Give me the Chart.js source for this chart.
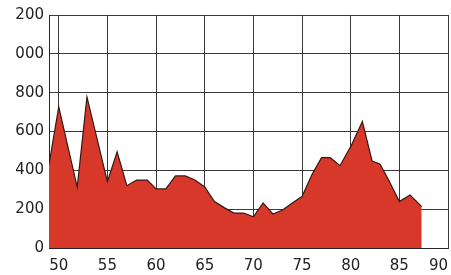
<!DOCTYPE html>
<html>
<head>
<meta charset="utf-8">
<script src="https://cdn.jsdelivr.net/npm/chart.js@4"></script>
<style>
  html, body { margin: 0; padding: 0; background: #fff; }
  #wrap { width: 451px; height: 275px; }
  canvas { display: block; }
</style>
</head>
<body>
<div id="wrap"><canvas id="myChart" width="451" height="275"></canvas></div>
<script>
// values
const years = [49, 50, 51.9, 52.9, 55, 56, 57, 58, 59.1, 60, 61, 62, 63, 64, 65, 66, 67, 68, 69, 70,
    71, 72, 73, 74, 75, 76, 77, 77.9, 78.9, 80, 81.2, 82.2, 83, 83.9, 85, 86.1, 87.3];
const values = [430, 727, 314, 778, 342, 495, 321, 350, 350, 304, 304, 371, 371, 350, 314, 239, 208, 180, 180, 161,
    232, 175, 196, 232, 265, 376, 465, 465, 424, 522, 651, 448, 433, 350, 239, 273, 213];

const xTicks = [49, 50, 55, 60, 65, 70, 75, 80, 85, 90];
const xTickLabels = ['', '50', '55', '60', '65', '70', '75', '80', '85', '90'];
const yTicks = [0, 200, 400, 600, 800, 1000, 1200];
const yTickLabels = ['0', '200', '400', '600', '800', '000', '200'];

const points = years.map((x, i) => ({ x: x, y: values[i] }));
const gridColor = 'rgba(40, 36, 36, 0.9)';
const tickFont = { family: 'DejaVu Sans', size: 15, lineHeight: 1.2 };

function renderChart() {
    const config = {
        type: 'line',
        data: {
            datasets: [{
                data: points,
                borderColor: '#361813',
                borderWidth: 1.2,
                backgroundColor: '#d8382a',
                fill: 'origin',
                tension: 0,
                pointRadius: 0
            }]
        },
        options: {
            responsive: false,
            animation: false,
            layout: { padding: { left: 15, top: 15, right: 3, bottom: 0 } },
            plugins: { legend: { display: false }, tooltip: { enabled: false } },
            scales: {
                x: {
                    type: 'linear',
                    min: 49,
                    max: 90,
                    z: 1,
                    afterBuildTicks: scale => { scale.ticks = xTicks.map(v => ({ value: v })); },
                    afterFit: scale => { scale.height = 27; scale.paddingLeft = 0; scale.paddingRight = 0; },
                    grid: { color: gridColor, lineWidth: 1, drawTicks: false },
                    border: { color: gridColor, width: 1 },
                    ticks: {
                        align: 'inner',
                        padding: 9,
                        color: '#222',
                        font: tickFont,
                        callback: (v, i) => xTickLabels[i]
                    }
                },
                y: {
                    min: 0,
                    max: 1200,
                    z: 1,
                    afterBuildTicks: scale => { scale.ticks = yTicks.map(v => ({ value: v })); },
                    afterFit: scale => { scale.width = 34; scale.paddingTop = 0; scale.paddingBottom = 0; },
                    grid: { color: gridColor, lineWidth: 1, drawTicks: false },
                    border: { color: gridColor, width: 1 },
                    ticks: {
                        padding: 5,
                        color: '#222',
                        font: tickFont,
                        callback: (v, i) => yTickLabels[i]
                    }
                }
            }
        }
    };
    new Chart(document.getElementById('myChart'), config);
}

renderChart();
</script>
</body>
</html>
